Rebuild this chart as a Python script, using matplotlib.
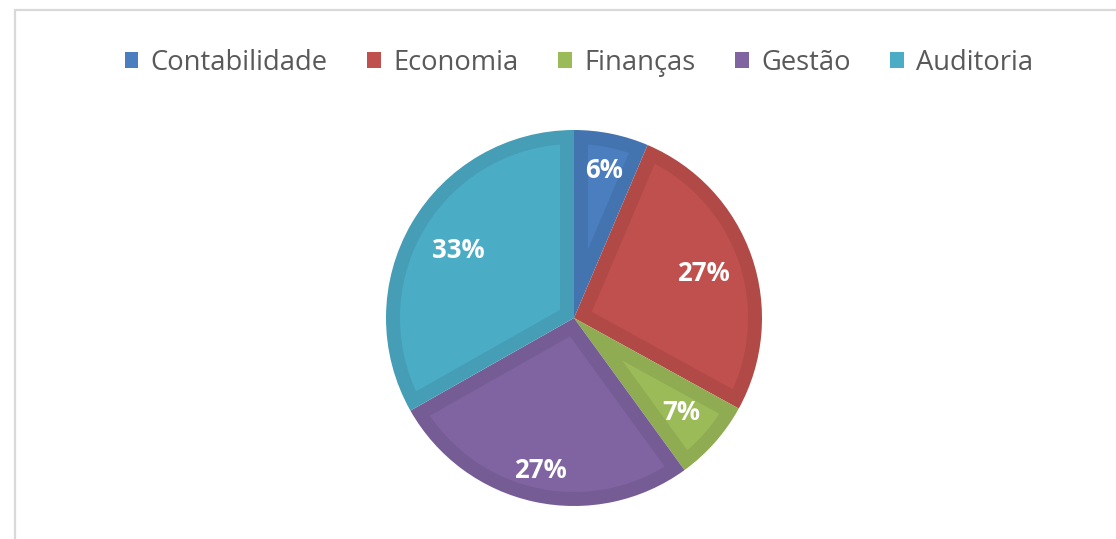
import numpy as np
import matplotlib.pyplot as plt
from matplotlib.patches import Polygon, Rectangle, Patch
from matplotlib.colors import to_rgb

categories = ['Contabilidade', 'Economia', 'Finanças', 'Gestão', 'Auditoria']
shares = [6.4, 26.6, 7.0, 26.8, 33.2]
colors = ['#4a7ebf', '#c0504d', '#9bbb59', '#8064a2', '#4bacc6']
label_radius = [0.80, 0.73, 0.76, 0.83, 0.71]

W, H = 1116, 539
fig = plt.figure(figsize=(W / 100, H / 100), dpi=100)
fig.patch.set_facecolor('white')

# chart area border (cropped on right/bottom)
fig.add_artist(Rectangle((15 / W, -0.1), 1.2, 1.1 - 10 / H, transform=fig.transFigure,
                         fill=False, edgecolor='#d9d9d9', linewidth=1.6))

cx, cy, r = 574, 318, 188
ax = fig.add_axes([(cx - r) / W, (H - cy - r) / H, 2 * r / W, 2 * r / H])

dark = [tuple(c * 0.92 for c in to_rgb(col)) for col in colors]
wedges, texts, autotexts = ax.pie(
    shares, colors=dark, startangle=90, counterclock=False, radius=1,
    autopct='%.0f%%', pctdistance=0.75,
    textprops=dict(color='white', fontsize=18.5, fontweight='bold', family='Open Sans'),
    wedgeprops=dict(linewidth=0))

# inner lighter face to mimic the bevel
d = 14 / r
for w, col in zip(wedges, colors):
    t1, t2 = np.radians(w.theta1), np.radians(w.theta2)
    half = (t2 - t1) / 2
    mid = (t1 + t2) / 2
    apex = d / np.sin(half)
    rr = 1 - d
    off = np.arcsin(d / rr)
    arc = np.linspace(t1 + off, t2 - off, 80)
    pts = [(apex * np.cos(mid), apex * np.sin(mid))]
    pts += list(zip(rr * np.cos(arc), rr * np.sin(arc)))
    ax.add_patch(Polygon(pts, closed=True, facecolor=col, edgecolor='none', zorder=1.5))

for w, t, lr in zip(wedges, autotexts, label_radius):
    mid = np.radians((w.theta1 + w.theta2) / 2)
    t.set_position((lr * np.cos(mid), lr * np.sin(mid)))
    t.set_zorder(3)

ax.set_xlim(-1, 1)
ax.set_ylim(-1, 1)
ax.set_aspect('equal')
ax.axis('off')

handles = [Patch(facecolor=c, edgecolor='none') for c in colors]
fig.legend(handles, categories, loc='center', bbox_to_anchor=(579 / W, 1 - 63 / H),
           ncol=5, frameon=False, handlelength=0.5, handleheight=0.5,
           handletextpad=0.45, columnspacing=1.45,
           prop=dict(family='Open Sans', size=19.7), labelcolor='#595959')

fig.savefig('out.png', dpi=100)
